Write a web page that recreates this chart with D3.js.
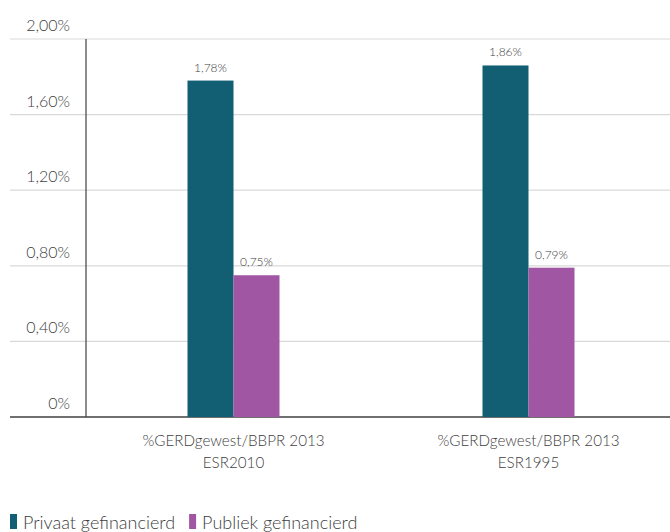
<!DOCTYPE html>
<html><head><meta charset="utf-8">
<script src="https://cdn.jsdelivr.net/npm/d3@7"></script>
<style>body{margin:0;background:#fff}svg{display:block;font-family:Lato,"Open Sans",sans-serif}</style>
</head><body><svg id="c" width="670" height="532"></svg>
<script>
const categories = [["%GERDgewest/BBPR 2013","ESR2010"],["%GERDgewest/BBPR 2013","ESR1995"]];
const seriesNames = ["Privaat gefinancierd","Publiek gefinancierd"];
const privaat = [1.78, 1.86];
const publiek = [0.75, 0.79];
const ticks = [0, 0.4, 0.8, 1.2, 1.6, 2.0];
const tickLabels = ["0%","0,40%","0,80%","1,20%","1,60%","2,00%"];
const colors = ["#125e72","#a056a3"];

const svg = d3.select("#c");
const x0 = 86, x1 = 676, yTop = 39, yBot = 417;
const x = d3.scaleBand().domain(d3.range(categories.length)).range([x0, x1]);
const xs = d3.scaleBand().domain([0,1]).range([0, 92]);
const y = d3.scaleLinear().domain([0, 2]).range([yBot, yTop]);
const fmt = v => v.toFixed(2).replace(".", ",") + "%";

// gridlines
svg.append("g").selectAll("line").data(ticks).join("line")
  .attr("x1", 10).attr("x2", 670)
  .attr("y1", d => y(d)).attr("y2", d => y(d))
  .attr("stroke", d => d === 0 ? "#404040" : "#d9d9d9").attr("stroke-width", d => d===0?1.5:1.2);
svg.append("g").selectAll("text").data(ticks).join("text")
  .attr("x", 70).attr("y", d => y(d) - 8).attr("text-anchor", "end")
  .attr("font-size", 16).attr("fill", "#404040").attr("font-weight", 300)
  .text((d,i) => tickLabels[i]);
svg.append("line").attr("x1", x0).attr("x2", x0).attr("y1", yTop).attr("y2", yBot)
  .attr("stroke", "#404040").attr("stroke-width", 1.2);

const series = [privaat, publiek];
series.forEach((vals, s) => {
  const g = svg.append("g");
  g.selectAll("rect").data(vals).join("rect")
    .attr("x", (d,i) => x(i) + x.bandwidth()/2 - 46 + xs(s))
    .attr("width", xs.bandwidth())
    .attr("y", d => y(d)).attr("height", d => yBot - y(d))
    .attr("fill", colors[s]);
  g.selectAll("text").data(vals).join("text")
    .attr("x", (d,i) => x(i) + x.bandwidth()/2 - 46 + xs(s) + xs.bandwidth()/2)
    .attr("y", d => y(d) - 9).attr("text-anchor", "middle")
    .attr("font-size", 12).attr("fill", "#404040").attr("font-weight", 300)
    .text(d => fmt(d));
});

// x labels
categories.forEach((lines, i) => {
  const t = svg.append("text").attr("text-anchor", "middle").attr("font-size", 15.2)
    .attr("fill", "#404040").attr("font-weight", 300);
  lines.forEach((l, j) => t.append("tspan").attr("x", x(i) + x.bandwidth()/2).attr("y", 446 + j*22).text(l));
});

// legend
const leg = svg.append("g");
let lx = 10;
seriesNames.forEach((n, i) => {
  leg.append("rect").attr("x", lx).attr("y", 514).attr("width", 7).attr("height", 15).attr("fill", colors[i]);
  const t = leg.append("text").attr("x", lx + 13).attr("y", 529).attr("font-size", 18)
    .attr("fill", "#404040").attr("font-weight", 300).text(n);
  lx += 13 + t.node().getComputedTextLength() + 14;
});
</script></body></html>
